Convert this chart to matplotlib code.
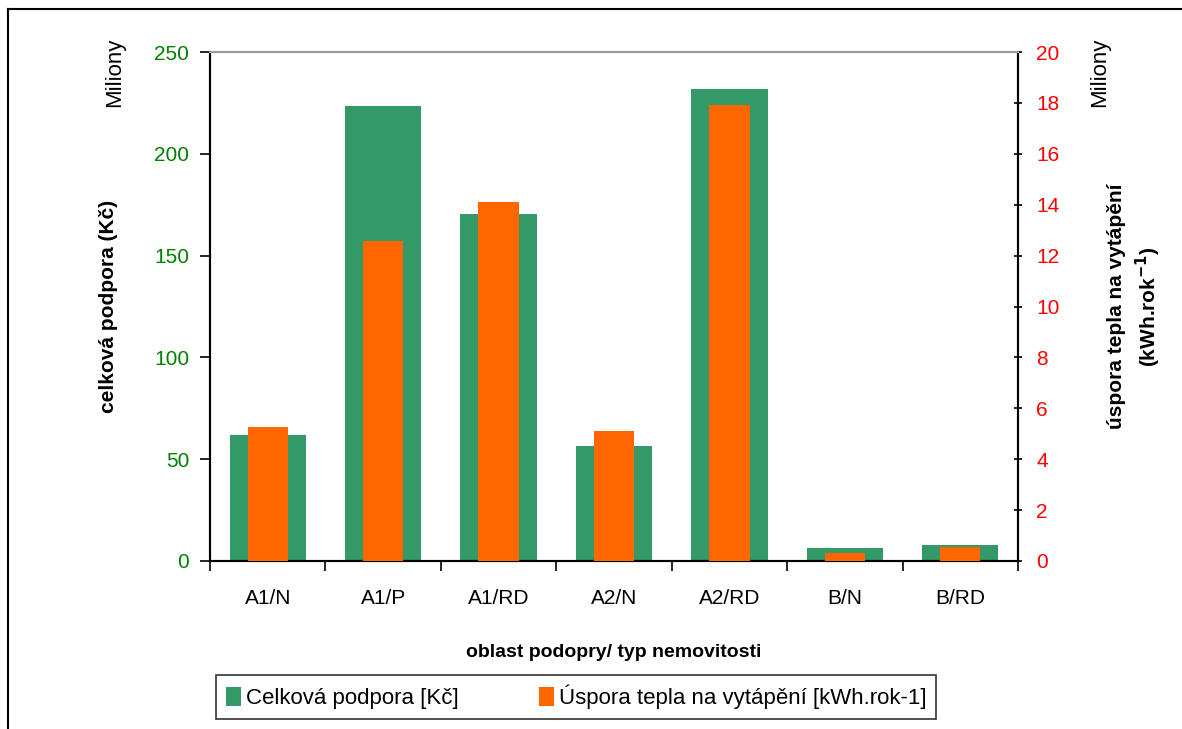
import matplotlib.pyplot as plt
from matplotlib.lines import Line2D
import numpy as np

plt.rcParams['font.family'] = ['Liberation Sans', 'DejaVu Sans']

categories = ["A1/N", "A1/P", "A1/RD", "A2/N", "A2/RD", "B/N", "B/RD"]
podpora = [61.9, 223.5, 170.4, 56.5, 231.8, 6.4, 7.9]      # mil. Kč
uspora = [5.27, 12.57, 14.1, 5.1, 17.9, 0.31, 0.55]        # mil. kWh/rok

green = "#339966"
orange = "#FF6600"

fig = plt.figure(figsize=(11.82, 7.29), dpi=100)
W, H = 1182, 729
ax = fig.add_axes([210 / W, 1 - 561 / H, 808 / W, 509 / H])
ax2 = ax.twinx()

x = np.arange(len(categories))
ax.bar(x, podpora, width=0.66, color=green, label="Celková podpora [Kč]", zorder=2)
ax2.bar(x, uspora, width=0.35, color=orange, label="Úspora tepla na vytápění [kWh.rok-1]", zorder=3)

ax.set_xlim(-0.5, len(categories) - 0.5)
ax.set_ylim(0, 250)
ax2.set_ylim(0, 20)
ax.set_yticks(np.arange(0, 251, 50))
ax2.set_yticks(np.arange(0, 21, 2))

# category labels between boundary ticks
ax.set_xticks(np.arange(-0.5, len(categories), 1))
ax.set_xticklabels([])
ax.set_xticks(x, minor=True)
ax.set_xticklabels(categories, minor=True, fontsize=15)
ax.tick_params(axis='x', which='minor', length=0, pad=20)
ax.tick_params(axis='x', which='major', length=7, direction='out', width=1.2)

ax.tick_params(axis='y', colors='black', labelcolor='#008000', labelsize=15,
               length=7, width=1.2, direction='out', pad=8)
ax2.tick_params(axis='y', labelcolor='#FF0000', labelsize=15,
                length=6, width=1.2, direction='inout', pad=10)

for a in (ax, ax2):
    a.spines['top'].set_color('#999999')
    a.spines['top'].set_linewidth(1.5)
    for s in ('left', 'right', 'bottom'):
        a.spines[s].set_linewidth(1.5)
ax.set_zorder(ax2.get_zorder() - 1)
ax2.patch.set_visible(False)

ax.set_ylabel("celková podpora (Kč)", fontsize=15, fontweight='bold', labelpad=26)
ax2.set_ylabel("úspora tepla na vytápění\n(kWh.rok$^{\\mathbf{-1}}$)", fontsize=15,
               fontweight='bold', labelpad=34, rotation=90, linespacing=1.35)
ax.set_xlabel("oblast podopry/ typ nemovitosti", fontsize=14, fontweight='bold', labelpad=26)

fig.text(115 / W, 1 - 72 / H, "Miliony", rotation=90, ha='center', va='center', fontsize=16)
fig.text(1100 / W, 1 - 72 / H, "Miliony", rotation=90, ha='center', va='center', fontsize=16)

h1, l1 = ax.get_legend_handles_labels()
h2, l2 = ax2.get_legend_handles_labels()
leg = fig.legend(h1 + h2, l1 + l2, loc='center', bbox_to_anchor=(576 / W, 1 - 697 / H),
                 ncol=2, fontsize=16, frameon=True, fancybox=False, handlelength=0.7,
                 handleheight=0.9, handletextpad=0.2, columnspacing=3.6, borderpad=0.45,
                 borderaxespad=0)
leg.get_frame().set_edgecolor('black')
leg.get_frame().set_linewidth(1.2)

# outer chart frame
fig.add_artist(Line2D([8 / W, 1.0], [1 - 9 / H, 1 - 9 / H], color='black', lw=1.5))
fig.add_artist(Line2D([8 / W, 8 / W], [0, 1 - 9 / H], color='black', lw=1.5))

fig.savefig("out.png", dpi=100)
